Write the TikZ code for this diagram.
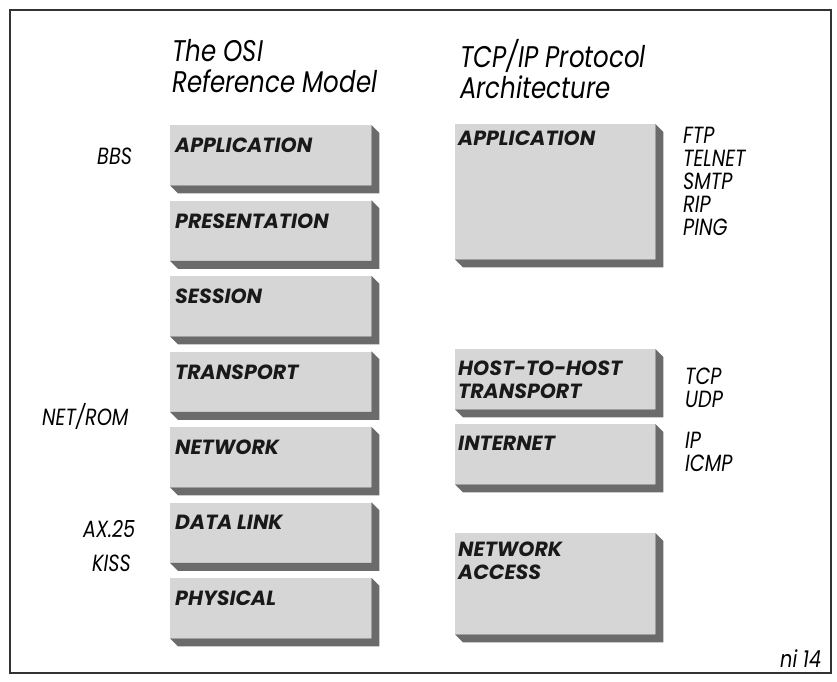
\documentclass[tikz,border=0pt]{standalone}
\usepackage{fontspec}
\setmainfont{Poppins}
\newfontfamily\narrowfont[FakeStretch=0.82]{Poppins}
\usetikzlibrary{positioning}

\tikzset{
  frame/.style={draw=black!80, line width=1.2pt},
  layer/.style={fill=black!16, inner sep=0pt, anchor=north west},
  osibox/.style={layer, minimum width=60.3mm, minimum height=18mm},
  tcpbox/.style={layer, minimum width=60mm},
  band/.style={fill=black!58},
  lyrtxt/.style={inner sep=0pt, anchor=north west, align=left, text=black!90,
    font=\fontsize{17.5}{19.4}\selectfont\bfseries\itshape},
  title/.style={inner sep=0pt, anchor=north west, align=left,
    font=\narrowfont\fontsize{25.5}{26.5}\selectfont\itshape},
  proto/.style={inner sep=0pt, align=left,
    font=\narrowfont\fontsize{20}{19.6}\selectfont\itshape}
}

\begin{document}
\begin{tikzpicture}[x=0.3mm, y=-0.3mm]
  \useasboundingbox (0,0) rectangle (837,682);
  \draw[frame] (10,10) rectangle (831,673);

  % headings
  \node[title] (osi-head) at (172,39) {The OSI\\Reference Model};
  \node[title] (tcp-head) at (460,39) {TCP/IP Protocol\\Architecture};

  % OSI layers
  \node[osibox] (osi-app) at (170,125) {};
  \node[osibox, below=4.5mm of osi-app.south west, anchor=north west] (osi-pres) {};
  \node[osibox, below=4.5mm of osi-pres.south west, anchor=north west] (osi-sess) {};
  \node[osibox, below=4.5mm of osi-sess.south west, anchor=north west] (osi-trans) {};
  \node[osibox, below=4.5mm of osi-trans.south west, anchor=north west] (osi-net) {};
  \node[osibox, below=4.5mm of osi-net.south west, anchor=north west] (osi-link) {};
  \node[osibox, below=4.5mm of osi-link.south west, anchor=north west] (osi-phys) {};

  % TCP/IP layers
  \node[tcpbox, minimum height=40.5mm] (tcp-app) at (455,124) {};
  \node[tcpbox, minimum height=18mm] (tcp-host) at (455,349) {};
  \node[tcpbox, minimum height=18mm] (tcp-inet) at (455,424) {};
  \node[tcpbox, minimum height=30.3mm] (tcp-acc) at (455,533) {};

  % dark edge on the right and below
  \foreach \b in {osi-app,osi-pres,osi-sess,osi-trans,osi-net,osi-link,osi-phys,
                  tcp-app,tcp-host,tcp-inet,tcp-acc}
    \fill[band] (\b.north east) -- ++(8,8) -- ([shift={(8,8)}]\b.south east)
      -- ([shift={(8,8)}]\b.south west) -- (\b.south west) -- (\b.south east) -- cycle;

  % layer names
  \node[lyrtxt] (t-app) at ([shift={(5,13)}]osi-app.north west) {APPLICATION};
  \node[lyrtxt] (t-pres) at ([shift={(5,13)}]osi-pres.north west) {PRESENTATION};
  \node[lyrtxt] (t-sess) at ([shift={(5,13)}]osi-sess.north west) {SESSION};
  \node[lyrtxt] (t-trans) at ([shift={(5,13)}]osi-trans.north west) {TRANSPORT};
  \node[lyrtxt] (t-net) at ([shift={(5,13)}]osi-net.north west) {NETWORK};
  \node[lyrtxt] (t-link) at ([shift={(5,13)}]osi-link.north west) {DATA LINK};
  \node[lyrtxt] (t-phys) at ([shift={(5,13)}]osi-phys.north west) {PHYSICAL};
  \node[lyrtxt] (t-tapp) at ([shift={(3,7)}]tcp-app.north west) {APPLICATION};
  \node[lyrtxt] (t-host) at ([shift={(3,12)}]tcp-host.north west) {HOST-TO-HOST\\TRANSPORT};
  \node[lyrtxt] (t-inet) at ([shift={(3,12)}]tcp-inet.north west) {INTERNET};
  \node[lyrtxt] (t-acc) at ([shift={(3,9)}]tcp-acc.north west) {NETWORK\\ACCESS};

  % protocols
  \node[proto, anchor=base west] (bbs) at (97,165) {BBS};
  \node[proto, anchor=base west] (netrom) at (42,425) {NET/ROM};
  \node[proto, anchor=base west] (ax25) at (83,537) {AX.25};
  \node[proto, anchor=base west] (kiss) at (92,571) {KISS};
  \node[proto, anchor=north west] (apps) at (683,127) {FTP\\TELNET\\SMTP\\RIP\\PING};
  \node[proto, anchor=north west] (tcpudp) at (685,368) {TCP\\UDP};
  \node[proto, anchor=north west] (ipicmp) at (685,432) {IP\\ICMP};

  \node[proto, anchor=base west] (fig) at (780,667) {ni 14};
\end{tikzpicture}
\end{document}
